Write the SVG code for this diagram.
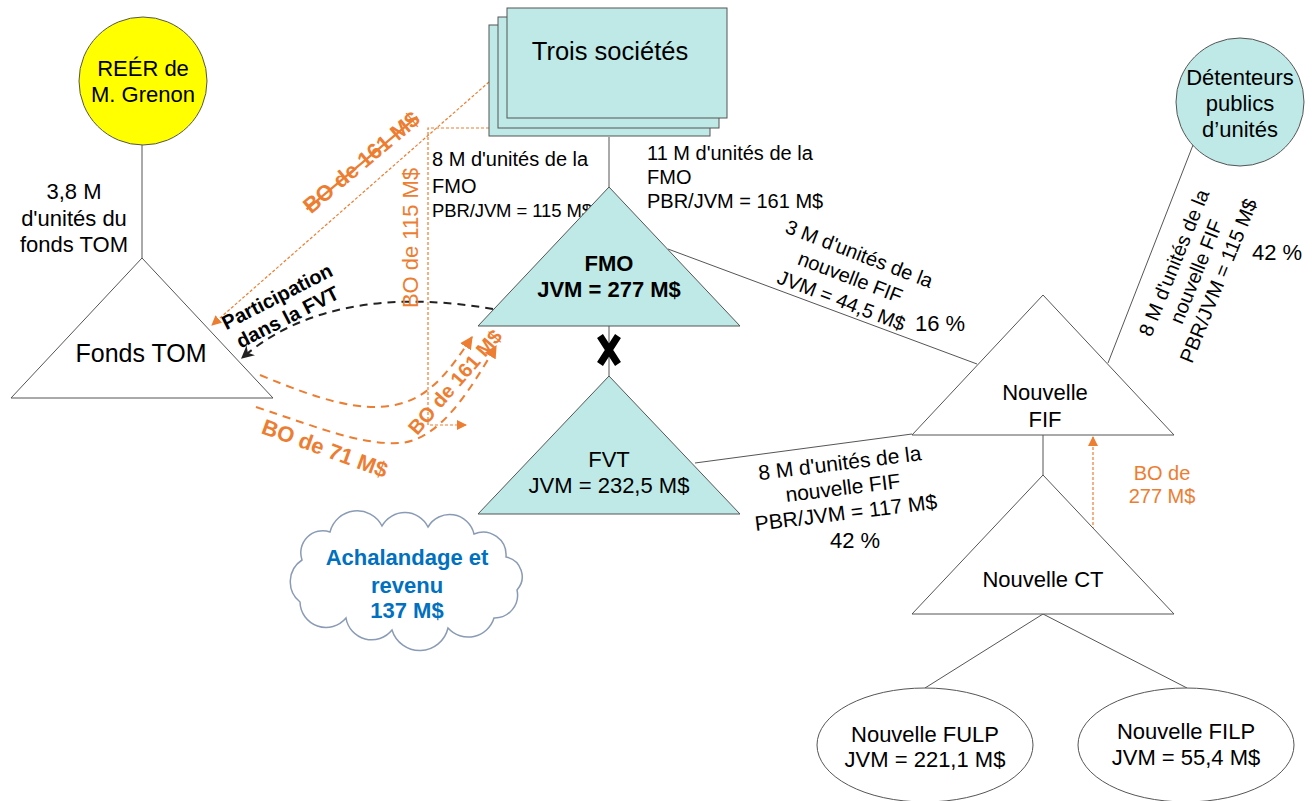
<svg xmlns="http://www.w3.org/2000/svg" width="1312" height="801" viewBox="0 0 1312 801">
<style>
text{font-family:"Liberation Sans",Arial,sans-serif;fill:#000}
.n{font-size:22px}
.m{font-size:20px}
.s{font-size:18.5px}
.b{font-weight:bold}
.o{fill:#ED7D31}
.blue{fill:#0070C0}
.teal{fill:#bee9e6;stroke:#555;stroke-width:1}
.wh{fill:#fff;stroke:#555;stroke-width:1}
.ln{stroke:#555;stroke-width:1;fill:none}
.dot{stroke:#ED7D31;stroke-width:1.2;stroke-dasharray:3 2;fill:none}
.dash{stroke:#ED7D31;stroke-width:2;stroke-dasharray:8 6;fill:none}
.bdash{stroke:#222;stroke-width:2;stroke-dasharray:8 6;fill:none}
</style>
<defs>
<marker id="ao" viewBox="0 0 10 10" refX="9" refY="5" markerWidth="10" markerHeight="10" markerUnits="userSpaceOnUse" orient="auto"><path d="M0,0 L10,5 L0,10 z" fill="#ED7D31"/></marker>
<marker id="aob" viewBox="0 0 10 10" refX="9" refY="5" markerWidth="13" markerHeight="13" markerUnits="userSpaceOnUse" orient="auto"><path d="M0,0 L10,5 L0,10 z" fill="#ED7D31"/></marker>
<marker id="ak" viewBox="0 0 10 10" refX="9" refY="5" markerWidth="13" markerHeight="13" markerUnits="userSpaceOnUse" orient="auto"><path d="M0,0 L10,5 L0,10 L3,5 z" fill="#222"/></marker>
</defs>

<g id="connectors">
<line class="ln" x1="142" y1="145" x2="142" y2="258"/>
<line class="ln" x1="609" y1="137" x2="609" y2="187"/>
<line class="ln" x1="609" y1="326" x2="609" y2="376"/>
<line class="ln" x1="668" y1="249" x2="977" y2="364"/>
<line class="ln" x1="695" y1="463" x2="912" y2="434"/>
<line class="ln" x1="1193" y1="145" x2="1108" y2="363"/>
<line class="ln" x1="1043" y1="435" x2="1043" y2="475"/>
<line class="ln" x1="1043" y1="614" x2="925" y2="688"/>
<line class="ln" x1="1043" y1="614" x2="1187" y2="688"/>
<path d="M600,336 L618,364 M618,336 L600,364" stroke="#000" stroke-width="7"/>
<path class="dot" d="M489,82 L212,325" marker-end="url(#ao)"/>
<path class="dot" d="M489,128 H428 V425 H466" marker-end="url(#ao)"/>
<path class="dot" d="M1093,530 V437" marker-end="url(#ao)"/>
<path class="bdash" d="M493,309 C430,298 320,290 242,358" marker-end="url(#ak)"/>
<path class="dash" d="M260,375 C320,400 360,412 395,405 C430,398 450,370 472,337" marker-end="url(#aob)"/>
<path class="dash" d="M256,407 C320,428 360,445 400,443 C440,440 470,390 496,346" marker-end="url(#aob)"/>
</g>

<g id="labels">
<text class="n" text-anchor="middle"><tspan x="74" y="199">3,8 M</tspan><tspan x="74" y="226">d'unités du</tspan><tspan x="74" y="252">fonds TOM</tspan></text>
<text class="m" x="432" y="166">8 M d'unités de la</text>
<text class="m" x="432" y="193">FMO</text>
<text class="s" x="432" y="217" textLength="160">PBR/JVM = 115 M$</text>
<text class="m" x="647" y="160">11 M d'unités de la</text>
<text class="m" x="647" y="184">FMO</text>
<text class="m" x="647" y="208">PBR/JVM = 161 M$</text>
<g transform="translate(850,278) rotate(21)" text-anchor="middle" class="m"><text y="-19">3 M d'unités de la</text><text y="6">nouvelle FIF</text><text y="31">JVM = 44,5 M$</text></g>
<text class="n" x="940" y="331" text-anchor="middle">16 %</text>
<g transform="translate(843,489) rotate(-7)" text-anchor="middle" style="font-size:21px"><text y="-19">8 M d'unités de la</text><text y="6">nouvelle FIF</text><text y="31">PBR/JVM = 117 M$</text></g>
<text class="n" x="855" y="548" text-anchor="middle">42 %</text>
<g transform="translate(1197,272) rotate(-68)" text-anchor="middle" class="m"><text y="-18">8 M d'unités de la</text><text y="6">nouvelle FIF</text><text y="30">PBR/JVM = 115 M$</text></g>
<text class="n" x="1277" y="260" text-anchor="middle">42 %</text>
<text class="m o" text-anchor="middle"><tspan x="1162" y="480">BO de</tspan><tspan x="1162" y="503">277 M$</tspan></text>
<text class="n o" transform="translate(410,238) rotate(-90)" y="8" text-anchor="middle">BO de 115 M$</text>
<text class="n o b" transform="translate(361,162) rotate(-40)" y="8" text-anchor="middle" text-decoration="line-through">BO de 161 M$</text>
<text class="n o b" transform="translate(325,448) rotate(20)" y="8" text-anchor="middle">BO de 71 M$</text>
<text class="m o b" transform="translate(455,382) rotate(-49)" y="7" text-anchor="middle">BO de 161 M$</text>
<g transform="rotate(-27,283,308)" text-anchor="middle" class="m b"><text x="283" y="302">Participation</text><text x="283" y="325">dans la FVT</text></g>
</g>

<g id="reer">
<circle cx="143" cy="81" r="64" fill="#ffff00" stroke="#555"/>
<text class="n" text-anchor="middle"><tspan x="143" y="76">REÉR de</tspan><tspan x="143" y="102">M. Grenon</tspan></text>
</g>

<g id="fonds-tom">
<path class="wh" d="M142,258 L11,398 L273,398 Z"/>
<text x="141" y="362" text-anchor="middle" style="font-size:25px">Fonds TOM</text>
</g>

<g id="trois-societes">
<rect class="teal" x="489" y="25" width="221" height="111"/>
<rect class="teal" x="498" y="17" width="221" height="111"/>
<rect class="teal" x="507" y="8" width="220" height="110"/>
<text x="610" y="60" text-anchor="middle" style="font-size:25.5px">Trois sociétés</text>
</g>

<g id="fmo">
<path class="teal" d="M609,187 L478,326 L740,326 Z"/>
<text class="n b" text-anchor="middle"><tspan x="609" y="271">FMO</tspan><tspan x="609" y="297">JVM = 277 M$</tspan></text>
</g>

<g id="fvt">
<path class="teal" d="M609,376 L478,514 L740,514 Z"/>
<text class="n" text-anchor="middle"><tspan x="609" y="467">FVT</tspan><tspan x="609" y="493">JVM = 232,5 M$</tspan></text>
</g>

<g id="nouvelle-fif">
<path class="wh" d="M1043,295 L912,435 L1174,435 Z"/>
<text class="n" text-anchor="middle"><tspan x="1045" y="400">Nouvelle</tspan><tspan x="1045" y="427">FIF</tspan></text>
</g>

<g id="detenteurs">
<circle cx="1240" cy="102" r="64" fill="#bee9e6" stroke="#555"/>
<text class="n" text-anchor="middle"><tspan x="1240" y="85">Détenteurs</tspan><tspan x="1240" y="111">publics</tspan><tspan x="1240" y="137">d’unités</tspan></text>
</g>

<g id="nouvelle-ct">
<path class="wh" d="M1043,475 L912,614 L1174,614 Z"/>
<text class="n" x="1043" y="587" text-anchor="middle">Nouvelle CT</text>
</g>

<g id="fulp">
<ellipse class="wh" cx="925" cy="745" rx="108" ry="57"/>
<text class="n" text-anchor="middle"><tspan x="925" y="742">Nouvelle FULP</tspan><tspan x="925" y="767">JVM = 221,1 M$</tspan></text>
</g>

<g id="filp">
<ellipse class="wh" cx="1186" cy="745" rx="108" ry="57"/>
<text class="n" text-anchor="middle"><tspan x="1186" y="739">Nouvelle FILP</tspan><tspan x="1186" y="765">JVM = 55,4 M$</tspan></text>
</g>

<g id="cloud">
<path d="M302,560 A22 22 0 0 1 330,532 A28 28 0 0 1 382,526 A26 26 0 0 1 428,527 A25 25 0 0 1 474,534 A23 23 0 0 1 506,557 A20 20 0 0 1 517,590 A23 23 0 0 1 494,618 A27 27 0 0 1 448,628 A29 29 0 0 1 392,630 A26 26 0 0 1 346,618 A26 26 0 0 1 300,602 A26 26 0 0 1 302,560 Z" fill="#fff" stroke="#8a9bb5" stroke-width="1.5"/>
<text class="n b blue" text-anchor="middle"><tspan x="407" y="565">Achalandage et</tspan><tspan x="407" y="593">revenu</tspan><tspan x="407" y="618">137 M$</tspan></text>
</g>
</svg>
